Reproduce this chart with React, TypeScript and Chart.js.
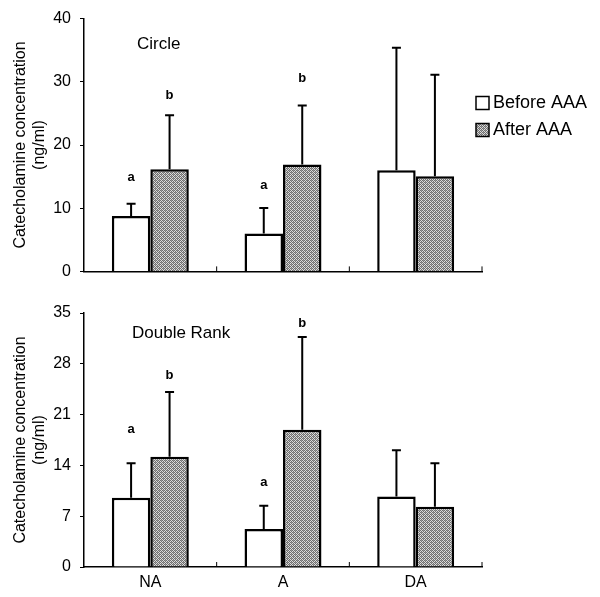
import React, { useEffect, useRef } from "react";
import { Chart, registerables } from "chart.js";
Chart.register(...registerables);

const FONT = "'Liberation Sans', Arial, sans-serif";

const categories = ["NA", "A", "DA"];
const seriesNames = ["Before AAA", "After AAA"];
const yTitle = ["Catecholamine concentration", "(ng/ml)"];

// Circle panel
const circleBefore = [8.75, 6.0, 16.0];
const circleBeforeSD = [1.95, 4.05, 19.4];
const circleAfter = [16.15, 16.9, 15.05];
const circleAfterSD = [8.55, 9.35, 16.05];
const circleLettersBefore = ["a", "a", ""];
const circleLettersAfter = ["b", "b", ""];
const circleLetterYBefore = [14.8, 13.6, 0];
const circleLetterYAfter = [27.8, 30.5, 0];
const circleMax = 40;
const circleStep = 10;

// Double Rank panel
const rankBefore = [9.53, 5.25, 9.72];
const rankBeforeSD = [4.75, 3.18, 6.38];
const rankAfter = [15.2, 18.9, 8.29];
const rankAfterSD = [8.9, 12.8, 5.99];
const rankLettersBefore = ["a", "a", ""];
const rankLettersAfter = ["b", "b", ""];
const rankLetterYBefore = [18.9, 11.6, 0];
const rankLetterYAfter = [26.4, 33.5, 0];
const rankMax = 35;
const rankStep = 7;

function makePattern(): CanvasPattern | string {
  const pc = document.createElement("canvas");
  pc.width = 4;
  pc.height = 4;
  const p = pc.getContext("2d");
  if (!p) return "#aaa";
  p.fillStyle = "#dcdcdc";
  p.fillRect(0, 0, 4, 4);
  p.fillStyle = "#6e6e6e";
  for (let y = 0; y < 4; y++) {
    for (let x = 0; x < 4; x++) {
      if ((x + y) % 2 === 0) p.fillRect(x, y, 1, 1);
    }
  }
  p.fillStyle = "#9a9a9a";
  p.fillRect(1, 2, 1, 1);
  p.fillRect(3, 0, 1, 1);
  const pat = p.createPattern(pc, "repeat");
  return pat || "#aaa";
}

type PanelProps = {
  height: number;
  padTop: number;
  xHeight: number;
  max: number;
  step: number;
  before: number[];
  beforeSD: number[];
  after: number[];
  afterSD: number[];
  lettersBefore: string[];
  lettersAfter: string[];
  letterYBefore: number[];
  letterYAfter: number[];
  title: string;
  titleDX: number;
  titleDY: number;
  showX: boolean;
  showLegend: boolean;
  top: number;
};

function Panel(props: PanelProps) {
  const ref = useRef<HTMLCanvasElement | null>(null);
  useEffect(() => {
    if (!ref.current) return;
    const pattern = makePattern();
    const sds = [props.beforeSD, props.afterSD];
    const letters = [props.lettersBefore, props.lettersAfter];
    const letterY = [props.letterYBefore, props.letterYAfter];

    const overlay = {
      id: "overlay",
      afterDatasetsDraw(chart: any) {
        const ctx = chart.ctx;
        const ys = chart.scales.y;
        const xs = chart.scales.x;
        const area = chart.chartArea;
        ctx.save();
        // error bars
        for (let d = 0; d < 2; d++) {
          const meta = chart.getDatasetMeta(d);
          const vals = chart.data.datasets[d].data as number[];
          meta.data.forEach((bar: any, i: number) => {
            const topPx = ys.getPixelForValue(vals[i] + sds[d][i]);
            ctx.strokeStyle = "#000";
            ctx.lineWidth = 2;
            ctx.beginPath();
            ctx.moveTo(bar.x, bar.y);
            ctx.lineTo(bar.x, topPx);
            ctx.moveTo(bar.x - 4.5, topPx);
            ctx.lineTo(bar.x + 4.5, topPx);
            ctx.stroke();
            const lt = letters[d][i];
            if (lt) {
              ctx.fillStyle = "#000";
              ctx.font = "bold 13px " + FONT;
              ctx.textAlign = "center";
              ctx.textBaseline = "middle";
              ctx.fillText(lt, bar.x, ys.getPixelForValue(letterY[d][i]));
            }
          });
        }
        // small upward ticks at category boundaries
        ctx.strokeStyle = "#000";
        ctx.lineWidth = 1;
        const n = categories.length;
        for (let i = 0; i < n; i++) {
          const xb =
            i < n - 1
              ? (xs.getPixelForTick(i) + xs.getPixelForTick(i + 1)) / 2
              : xs.right;
          ctx.beginPath();
          ctx.moveTo(xb, area.bottom);
          ctx.lineTo(xb, area.bottom - 5);
          ctx.stroke();
        }
        // panel title
        ctx.fillStyle = "#000";
        ctx.font = "17px " + FONT;
        ctx.textAlign = "left";
        ctx.textBaseline = "middle";
        ctx.fillText(props.title, area.left + props.titleDX, area.top + props.titleDY);
        // legend
        if (props.showLegend) {
          const lx = 476;
          const rows = [103, 130];
          rows.forEach((ry, k) => {
            ctx.fillStyle = k === 0 ? "#fff" : (pattern as any);
            ctx.fillRect(lx, ry - 6.5, 13, 13);
            ctx.strokeStyle = "#000";
            ctx.lineWidth = 1.5;
            ctx.strokeRect(lx, ry - 6.5, 13, 13);
            ctx.fillStyle = "#000";
            ctx.font = "18px " + FONT;
            ctx.textAlign = "left";
            ctx.textBaseline = "middle";
            ctx.fillText(seriesNames[k], lx + 17, ry);
          });
        }
        ctx.restore();
      },
    };

    const chart = new Chart(ref.current, {
      type: "bar",
      data: {
        labels: categories,
        datasets: [
          {
            label: seriesNames[0],
            data: props.before,
            backgroundColor: "#fff",
            borderColor: "#000",
            borderWidth: 2.5,
            barPercentage: 1,
            categoryPercentage: 0.58,
          },
          {
            label: seriesNames[1],
            data: props.after,
            backgroundColor: pattern as any,
            borderColor: "#000",
            borderWidth: 2.5,
            barPercentage: 1,
            categoryPercentage: 0.58,
          },
        ],
      },
      options: {
        animation: false,
        responsive: false,
        maintainAspectRatio: false,
        layout: { padding: { top: props.padTop, right: 118, left: 0, bottom: 0 } },
        plugins: { legend: { display: false }, tooltip: { enabled: false } },
        scales: {
          x: {
            grid: { display: false, drawTicks: false },
            border: { color: "#000", width: 1.5 },
            ticks: {
              display: props.showX,
              color: "#000",
              font: { size: 16, family: FONT },
              padding: 6,
            },
            afterFit: (s: any) => {
              s.height = props.xHeight;
            },
          },
          y: {
            min: 0,
            max: props.max,
            ticks: {
              stepSize: props.step,
              color: "#000",
              font: { size: 16, family: FONT },
              padding: 9,
            },
            grid: { drawOnChartArea: false, tickLength: 4, color: "#000" },
            border: { color: "#000", width: 1.5 },
            title: {
              display: true,
              text: yTitle,
              color: "#000",
              font: { size: 16, family: FONT },
              padding: { top: 11, bottom: 0 },
            },
            afterFit: (s: any) => {
              s.width = 84;
            },
          },
        },
      } as any,
      plugins: [overlay],
    });
    return () => chart.destroy();
  }, []);
  return (
    <canvas
      ref={ref}
      width={600}
      height={props.height}
      style={{ position: "absolute", left: 0, top: props.top, width: 600, height: props.height }}
    />
  );
}

export default function App() {
  return (
    <div style={{ position: "absolute", left: 0, top: 0, width: 600, height: 597, background: "#fff" }}>
      <Panel
        top={0}
        height={290}
        padTop={16}
        xHeight={18}
        max={circleMax}
        step={circleStep}
        before={circleBefore}
        beforeSD={circleBeforeSD}
        after={circleAfter}
        afterSD={circleAfterSD}
        lettersBefore={circleLettersBefore}
        lettersAfter={circleLettersAfter}
        letterYBefore={circleLetterYBefore}
        letterYAfter={circleLetterYAfter}
        title="Circle"
        titleDX={53}
        titleDY={26}
        showX={false}
        showLegend={true}
      />
      <Panel
        top={290}
        height={307}
        padTop={23}
        xHeight={30}
        max={rankMax}
        step={rankStep}
        before={rankBefore}
        beforeSD={rankBeforeSD}
        after={rankAfter}
        afterSD={rankAfterSD}
        lettersBefore={rankLettersBefore}
        lettersAfter={rankLettersAfter}
        letterYBefore={rankLetterYBefore}
        letterYAfter={rankLetterYAfter}
        title="Double Rank"
        titleDX={48}
        titleDY={20}
        showX={true}
        showLegend={false}
      />
    </div>
  );
}
